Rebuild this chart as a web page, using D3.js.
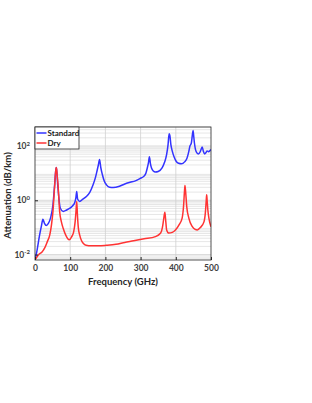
<!DOCTYPE html>
<html>
<head>
<meta charset="utf-8">
<script src="https://cdn.jsdelivr.net/npm/d3@7"></script>
<style>
  html, body { margin: 0; padding: 0; background: #fff; }
  svg { display: block; font-family: Lato, "Open Sans", sans-serif; }
</style>
</head>
<body>
<svg id="chart" width="312" height="403"></svg>
<script>
// frequency (GHz) and attenuation (dB/km)
const standardFreq = [0, 5, 13, 18, 22.5, 27, 32, 38, 44, 51, 56, 59, 60.5, 62, 65, 72, 80, 90, 99, 107, 113, 116,
  118.5, 121, 127, 136, 146, 156, 165, 172, 176, 180, 183.3, 187, 191.5, 197, 203, 212, 222, 240, 255, 270, 285,
  298, 309, 315, 319, 322.5, 325, 328, 331, 336, 342, 350, 361, 368, 374, 378, 381, 383, 386, 390, 395, 401, 408,
  416, 425, 432, 437, 440, 444, 447, 449, 451, 453, 456, 460, 464, 469, 472, 475, 478, 482, 486, 489, 493, 500]
const standardAtt = [0.0065, 0.0126, 0.052, 0.11, 0.2, 0.14, 0.117, 0.14, 0.22, 0.68, 4, 12.6, 16, 11, 3.2, 0.51,
  0.39, 0.44, 0.51, 0.63, 0.83, 1.2, 2.1, 1.12, 0.91, 1.1, 1.38, 2.0, 3.7, 7.1, 11.7, 20, 31.6, 15.8, 8.7, 5, 3.7,
  3.0, 2.95, 3.3, 4.0, 4.6, 5.2, 6.3, 7.6, 10, 15.5, 25, 40, 22, 15.5, 12, 11, 11.5, 15.5, 25, 49, 112, 280, 250,
  112, 65, 40, 27.5, 23, 22, 26, 36, 63, 98, 126, 250, 370, 224, 126, 74, 56, 51, 60, 76, 91, 66, 51, 58, 66, 62, 74]

const dryFreq = [0, 5, 12, 20, 28, 35, 42, 47, 51, 54, 56, 58, 59.5, 60.7, 62, 63.5, 65.5, 68, 70, 75, 80, 88, 97,
  104, 110, 114, 116.5, 118.6, 120.5, 123, 127, 132, 137, 145, 160, 180, 203, 230, 255, 280, 310, 342, 357, 362,
  365, 367.5, 369, 371, 374, 380, 390, 399, 410, 418, 422, 424.5, 426, 428, 431, 437, 447, 455, 461, 470, 480, 484,
  486.5, 487.7, 489, 491, 494, 500]
const dryAtt = [0.0065, 0.008, 0.0105, 0.0125, 0.018, 0.03, 0.053, 0.13, 0.39, 1.5, 3.7, 9, 14, 16.3, 12, 7, 3.7,
  1.0, 0.39, 0.16, 0.093, 0.05, 0.035, 0.045, 0.07, 0.16, 0.4, 0.9, 0.3, 0.1, 0.052, 0.033, 0.026, 0.022, 0.021,
  0.021, 0.022, 0.024, 0.028, 0.032, 0.038, 0.046, 0.062, 0.1, 0.18, 0.3, 0.36, 0.2, 0.081, 0.062, 0.066, 0.081,
  0.13, 0.22, 0.6, 2.0, 3.5, 2.0, 0.6, 0.22, 0.107, 0.085, 0.081, 0.1, 0.16, 0.35, 1.0, 1.6, 1.0, 0.45, 0.22, 0.107]

const xTicks = [0, 100, 200, 300, 400, 500]
const yTickExponents = [-2, 0, 2]
const seriesNames = ['Standard', 'Dry']
const seriesColors = ['#3333ff', '#ff3333']

const margin = { left: 35, right: 101, top: 127, bottom: 143 }
const svg = d3.select('#chart')
const width = +svg.attr('width') - margin.left - margin.right
const height = +svg.attr('height') - margin.top - margin.bottom

const xScale = d3.scaleLinear().domain([0, 500]).range([0, width])
const yScale = d3.scaleLog().domain([Math.pow(10, -2.2), Math.pow(10, 2.7)]).range([height, 0])

const g = svg.append('g').attr('transform', `translate(${margin.left},${margin.top})`)

// grid: minor log lines, then majors
const minorY = []
for (let e = -3; e <= 2; e++) {
  for (let m = 2; m <= 9; m++) {
    const v = m * Math.pow(10, e)
    if (v > yScale.domain()[0] && v < yScale.domain()[1]) minorY.push(v)
  }
}
g.append('g').selectAll('line').data(minorY).join('line')
  .attr('x1', 0).attr('x2', width)
  .attr('y1', (d) => yScale(d)).attr('y2', (d) => yScale(d))
  .attr('stroke', '#e0e0e0').attr('stroke-width', 0.8)

g.append('g').selectAll('line').data(yTickExponents.map((e) => Math.pow(10, e))).join('line')
  .attr('x1', 0).attr('x2', width)
  .attr('y1', (d) => yScale(d)).attr('y2', (d) => yScale(d))
  .attr('stroke', '#d0d0d0').attr('stroke-width', 0.8)

g.append('g').selectAll('line').data(xTicks.slice(1, -1)).join('line')
  .attr('x1', (d) => xScale(d)).attr('x2', (d) => xScale(d))
  .attr('y1', 0).attr('y2', height)
  .attr('stroke', '#d0d0d0').attr('stroke-width', 0.8)

// curves
g.append('clipPath').attr('id', 'plot-clip')
  .append('rect').attr('width', width).attr('height', height)

const line = d3.line()
  .x((d) => xScale(d[0]))
  .y((d) => yScale(d[1]))
  .curve(d3.curveMonotoneX)

const series = [
  d3.zip(standardFreq, standardAtt),
  d3.zip(dryFreq, dryAtt)
]

g.append('g').attr('clip-path', 'url(#plot-clip)')
  .selectAll('path').data(series).join('path')
  .attr('d', line)
  .attr('fill', 'none')
  .attr('stroke', (d, i) => seriesColors[i])
  .attr('stroke-width', 1.5)
  .attr('stroke-linejoin', 'round')

// axes
const xAxis = d3.axisBottom(xScale).tickValues(xTicks).tickSize(-3).tickPadding(5)
const yAxis = d3.axisLeft(yScale).tickValues(yTickExponents.map((e) => Math.pow(10, e))).tickSize(-3).tickFormat('')

const xg = g.append('g').attr('transform', `translate(0,${height})`).call(xAxis)
const yg = g.append('g').call(yAxis)
xg.select('.domain').remove()
yg.select('.domain').remove()
svg.selectAll('.tick line').attr('stroke', '#262626')
xg.selectAll('.tick text')
  .attr('fill', '#404040').attr('font-size', 8.5).attr('font-weight', 'bold')
  .attr('font-family', 'Lato, sans-serif')

// y tick labels 10^n
const yLab = g.append('g').selectAll('text').data(yTickExponents).join('text')
  .attr('x', -5)
  .attr('y', (d) => yScale(Math.pow(10, d)) + 3)
  .attr('text-anchor', 'end')
  .attr('fill', '#404040')
  .attr('font-size', 8.5)
  .attr('font-weight', 'bold')
yLab.append('tspan').text('10')
yLab.append('tspan').attr('dy', -3.5).attr('font-size', 6).text((d) => d)

g.append('rect')
  .attr('width', width).attr('height', height)
  .attr('fill', 'none').attr('stroke', '#262626').attr('stroke-width', 0.8)

// axis titles
svg.append('text')
  .attr('x', margin.left + width / 2).attr('y', 285)
  .attr('text-anchor', 'middle')
  .attr('font-size', 9.5).attr('font-weight', 'bold').attr('fill', '#262626')
  .text('Frequency (GHz)')

svg.append('text')
  .attr('transform', `translate(11,${margin.top + height / 2 + 2}) rotate(-90)`)
  .attr('text-anchor', 'middle')
  .attr('font-size', 9.5).attr('font-weight', 'bold').attr('fill', '#262626')
  .text('Attenuation (dB/km)')

// legend
const legend = g.append('g')
legend.append('rect')
  .attr('x', 0).attr('y', 0).attr('width', 44).attr('height', 22)
  .attr('fill', '#fff').attr('stroke', '#262626').attr('stroke-width', 0.8)
const items = legend.selectAll('g.item').data(seriesNames).join('g')
  .attr('class', 'item')
  .attr('transform', (d, i) => `translate(0,${6 + i * 10})`)
items.append('line')
  .attr('x1', 1.5).attr('x2', 11.5).attr('y1', 0).attr('y2', 0)
  .attr('stroke', (d, i) => seriesColors[i]).attr('stroke-width', 1.5)
items.append('text')
  .attr('x', 12.5).attr('y', 3)
  .attr('font-size', 8).attr('font-weight', 'bold').attr('fill', '#1a1a1a')
  .text((d) => d)
</script>
</body>
</html>
